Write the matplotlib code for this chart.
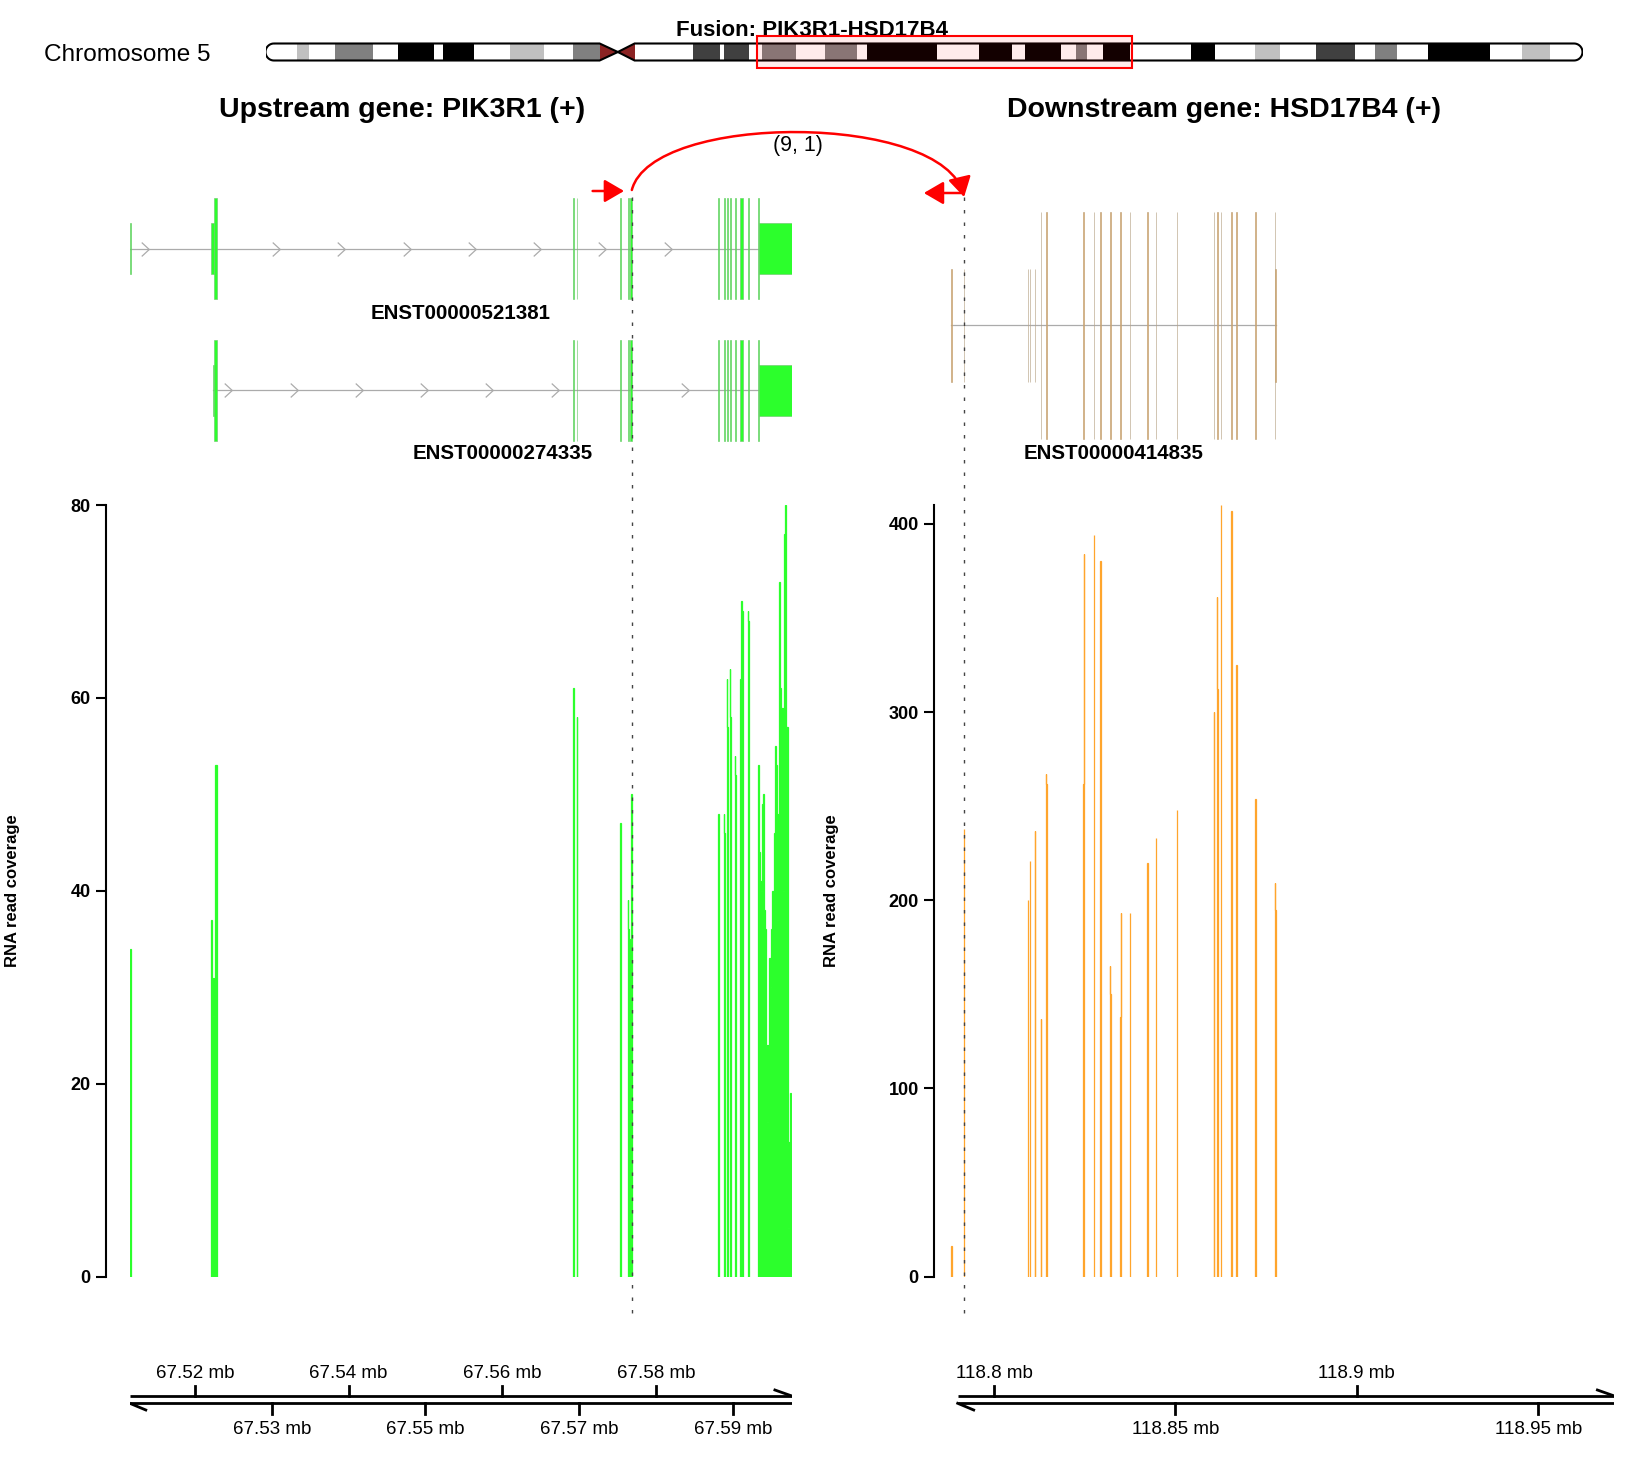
import numpy as np
import matplotlib
matplotlib.use('Agg')
import matplotlib.pyplot as plt
from matplotlib.patches import Rectangle, PathPatch, FancyArrowPatch
from matplotlib.path import Path

plt.rcParams['font.family'] = ['Liberation Sans', 'DejaVu Sans']

# ---------------- data ----------------
chrom_label = 'Chromosome 5'
chrom_len = 180.915  # Mb
band_start = [0, 4.3, 6.0, 9.5, 14.7, 18.2, 23.1, 24.4, 28.6, 33.6, 38.3, 42.3, 45.9, 48.4,
              50.7, 58.7, 62.5, 63.0, 66.4, 68.2, 72.9, 76.8, 81.2, 82.6, 92.2, 98.0, 102.6,
              104.3, 109.3, 111.3, 112.8, 115.0, 118.8, 127.1, 130.5, 135.9, 139.3, 144.3,
              149.6, 152.4, 155.4, 159.7, 168.2, 172.6, 176.4]
band_stain = ['gneg', 'gpos25', 'gneg', 'gpos50', 'gneg', 'gpos100', 'gneg', 'gpos100', 'gneg',
              'gpos25', 'gneg', 'gpos50', 'acen', 'acen',
              'gneg', 'gpos75', 'gneg', 'gpos75', 'gneg', 'gpos50', 'gneg', 'gpos50', 'gneg',
              'gpos100', 'gneg', 'gpos100', 'gneg', 'gpos100', 'gneg', 'gpos50', 'gneg',
              'gpos100', 'gneg', 'gpos100', 'gneg', 'gpos25', 'gneg', 'gpos75', 'gneg',
              'gpos50', 'gneg', 'gpos100', 'gneg', 'gpos25', 'gneg']
stain_color = {'gneg': 'white', 'gpos25': '#C0C0C0', 'gpos50': '#808080',
               'gpos75': '#404040', 'gpos100': 'black', 'acen': '#8B2323'}

fusion_name = 'PIK3R1-HSD17B4'
up_title = 'Upstream gene: PIK3R1 (+)'
dn_title = 'Downstream gene: HSD17B4 (+)'
split_reads, spanning_reads = 9, 1
up_breakpoint = 67_576_870
dn_breakpoint = 118_791_760

up_range = (67_511_510, 67_597_708)
dn_range = (118_787_000, 118_971_000)
dn_axis_range = (118_790_000, 118_971_000)

# PIK3R1 exons shared by both transcripts (after the first exons)
up_shared_start = [67_569_230, 67_569_690, 67_575_370, 67_576_320, 67_576_690, 67_588_110,
                   67_588_880, 67_589_250, 67_589_610, 67_590_320, 67_590_900, 67_591_980,
                   67_593_290]
up_shared_end = [67_569_330, 67_569_790, 67_575_470, 67_576_450, 67_576_870, 67_588_250,
                 67_589_000, 67_589_340, 67_589_720, 67_590_450, 67_591_320, 67_592_120,
                 67_597_656]
up_tx_names = ['ENST00000521381', 'ENST00000274335']
up_tx_first_start = [[67_511_540, 67_522_096], [67_522_330]]
up_tx_first_end = [[67_511_640, 67_522_813], [67_522_813]]
up_cds = (67_522_460, 67_593_430)

# coverage profile per exon of ENST00000521381
up_cov = [
    [7, 34, 34],
    [37, 36, 31, 27, 31, 33, 53, 53],
    [61, 56],
    [58, 52, 40],
    [47, 45, 43],
    [36, 39, 36],
    [35, 50],
    [46, 48, 47, 46],
    [48, 46, 44],
    [62, 57],
    [63, 58],
    [54, 52, 50],
    [50, 62, 70, 69],
    [69, 68, 55],
    [53, 44, 41, 40, 49, 50, 38, 36, 24, 16, 24, 26, 33, 30, 36, 40, 40, 46, 55, 53,
     37, 48, 72, 61, 59, 59, 40, 77, 80, 57, 57, 5, 14, 19, 8],
]

dn_tx_name = 'ENST00000414835'
dn_exon_start = [118_788_290, 118_791_760, 118_809_400, 118_809_950, 118_811_250, 118_812_980,
                 118_814_360, 118_824_650, 118_827_590, 118_829_350, 118_832_000, 118_834_800,
                 118_837_510, 118_842_300, 118_844_680, 118_850_470, 118_860_660, 118_861_490,
                 118_862_510, 118_865_350, 118_866_840, 118_872_080, 118_877_480]
dn_exon_end = [118_788_400, 118_791_870, 118_809_510, 118_810_060, 118_811_400, 118_813_090,
               118_814_480, 118_824_800, 118_827_700, 118_829_470, 118_832_120, 118_835_100,
               118_837_630, 118_842_430, 118_844_790, 118_850_580, 118_860_780, 118_861_610,
               118_862_630, 118_865_470, 118_866_960, 118_872_190, 118_877_760]
dn_cds = (118_812_980, 118_877_560)
dn_cov = [[16], [238], [200], [221], [237, 229], [137, 136], [267, 262], [262, 330, 384],
          [394], [380, 178], [165, 150], [138, 193], [193], [220, 208], [233], [248],
          [300, 272], [361, 312], [410], [407], [325, 245], [254], [209, 195, 88]]

up_color = '#2CFF2C'
dn_color = '#FFA52C'

# ---------------- figure ----------------
W, H = 1626, 1460
fig = plt.figure(figsize=(W / 100, H / 100), dpi=100)


def px_axes(x0, y0, x1, y1):
    return fig.add_axes([x0 / W, 1 - y1 / H, (x1 - x0) / W, (y1 - y0) / H])


# overlay in pixel coordinates
ov = px_axes(0, 0, W, H)
ov.set_xlim(0, W)
ov.set_ylim(H, 0)
ov.axis('off')
ov.set_zorder(10)

# ideogram
ax_id = px_axes(265.5, 0, 1582.5, 80)
ax_id.set_xlim(0, chrom_len)
ax_id.set_ylim(80, 0)
ax_id.axis('off')
top, bot = 43.5, 60.5
ymid, half = (top + bot) / 2, (bot - top) / 2
r = half / ((1582.5 - 265.5) / chrom_len)
acen = [i for i, s in enumerate(band_stain) if s == 'acen']
cen_l, cen_m = band_start[acen[0]], band_start[acen[1]]
cen_r = band_start[acen[1] + 1]
th = np.linspace(np.pi / 2, 3 * np.pi / 2, 30)
pts = [(r + r * np.cos(t), ymid - half * np.sin(t)) for t in th]
pts += [(cen_l, bot), (cen_m, ymid), (cen_r, bot)]
th = np.linspace(-np.pi / 2, np.pi / 2, 30)
pts += [(chrom_len - r + r * np.cos(t), ymid - half * np.sin(t)) for t in th]
pts += [(cen_r, top), (cen_m, ymid), (cen_l, top), pts[0]]
outline = PathPatch(Path(pts), fc='none', ec='black', lw=1.5, zorder=3)
ax_id.add_patch(outline)
band_end = band_start[1:] + [chrom_len]
for s, e, st in zip(band_start, band_end, band_stain):
    rect = Rectangle((s, top), e - s, bot - top, fc=stain_color[st], ec='none', zorder=2)
    ax_id.add_patch(rect)
    rect.set_clip_path(outline)
ax_id.add_patch(Rectangle((up_range[0] / 1e6, 36.3), (dn_axis_range[1] - up_range[0]) / 1e6,
                          32.1, fc=(1, 0, 0, 0.08), ec='red', lw=1.5, zorder=4))
ax_id.text(812, 31, 'Fusion: ' + fusion_name, transform=ov.transData, ha='center',
           va='center', fontsize=16, fontweight='bold', zorder=1)
ov.text(43.5, 55, chrom_label, ha='left', va='center', fontsize=17.6)
ov.text(402, 110, up_title, ha='center', va='center', fontsize=20.5, fontweight='bold')
ov.text(1224, 110, dn_title, ha='center', va='center', fontsize=20.5, fontweight='bold')


def exon_parts(s, e, cds):
    if e <= cds[0] or s >= cds[1]:
        return [(s, e, False)]
    parts = []
    if s < cds[0]:
        parts.append((s, cds[0], False))
    parts.append((max(s, cds[0]), min(e, cds[1]), True))
    if e > cds[1]:
        parts.append((cds[1], e, False))
    return parts


chev = Path([(-0.27, 0.5), (0.27, 0), (-0.27, -0.5)],
            [Path.MOVETO, Path.LINETO, Path.LINETO])


def draw_tx(ax, starts, ends, cds, yc, tall, short, color, edge, name, ylab, arrows):
    s0, e1 = starts[0], ends[-1]
    ax.plot([s0, e1], [yc, yc], color='#ABABAB', lw=0.9, zorder=1)
    if arrows:
        pos = np.arange(s0 + 2000, ends[-1], 8500)
        keep = [p for p in pos
                if min(min(abs(p - a), abs(p - b)) for a, b in zip(starts, ends)) > 1500
                and not any(a <= p <= b for a, b in zip(starts, ends))]
        ax.plot(keep, [yc] * len(keep), ls='none', marker=chev, ms=10, mfc='none',
                mec='#ABABAB', mew=0.9, zorder=1)
    for s, e in zip(starts, ends):
        for a, b, coding in exon_parts(s, e, cds):
            h = tall if coding else short
            ax.add_patch(Rectangle((a, yc - h / 2), b - a, h, fc=color, ec=edge,
                                   lw=0.45, zorder=2))
    ax.text((s0 + e1) / 2, ylab, name, ha='center', va='center', fontsize=14.8,
            fontweight='bold')


ax_tu = px_axes(129.8, 190, 791.9, 470)
ax_tu.set_xlim(up_range)
ax_tu.set_ylim(470, 190)
ax_tu.axis('off')
up_rows = [248.7, 390.3]
up_labels_y = [313.3, 454]
for i, name in enumerate(up_tx_names):
    st = up_tx_first_start[i] + up_shared_start
    en = up_tx_first_end[i] + up_shared_end
    draw_tx(ax_tu, st, en, up_cds, up_rows[i], 101, 50.7, up_color, '#6FC86F', name,
            up_labels_y[i], True)

ax_td = px_axes(946.8, 190, 1614.4, 470)
ax_td.set_xlim(dn_range)
ax_td.set_ylim(470, 190)
ax_td.axis('off')
draw_tx(ax_td, dn_exon_start, dn_exon_end, dn_cds, 325.3, 226.6, 113.4, dn_color,
        '#B8A488', dn_tx_name, 454, False)


def draw_cov(ax, starts, ends, covs, color):
    for s, e, vals in zip(starts, ends, covs):
        edges = np.linspace(s, e, len(vals) + 1)
        xs = np.repeat(edges, 2)
        ys = np.concatenate([[0], np.repeat(vals, 2), [0]])
        ax.fill(xs, ys, fc=color, ec=color, lw=0.9)


def style_cov(ax, ymax, step, offset):
    ax.set_ylim(0, ymax)
    ax.set_yticks(np.arange(0, ymax + 1, step))
    for sp in ['top', 'right', 'bottom']:
        ax.spines[sp].set_visible(False)
    ax.spines['left'].set_position(('outward', offset))
    ax.spines['left'].set_linewidth(1.5)
    ax.set_xticks([])
    ax.tick_params(axis='y', length=7.5, width=1.5, pad=3.5, labelsize=13)
    for t in ax.get_yticklabels():
        t.set_fontweight('bold')
    ax.patch.set_alpha(0)


ax_cu = px_axes(129.8, 505, 791.9, 1276.6)
ax_cu.set_xlim(up_range)
draw_cov(ax_cu, up_tx_first_start[0] + up_shared_start, up_tx_first_end[0] + up_shared_end,
         up_cov, up_color)
style_cov(ax_cu, 80, 20, 17.3)

ax_cd = px_axes(946.8, 505, 1614.4, 1276.6)
ax_cd.set_xlim(dn_range)
draw_cov(ax_cd, dn_exon_start, dn_exon_end, dn_cov, dn_color)
style_cov(ax_cd, 410, 100, 9.2)

ov.text(12.4, 891, 'RNA read coverage', rotation=90, ha='center', va='center',
        fontsize=12, fontweight='bold')
ov.text(831.7, 891, 'RNA read coverage', rotation=90, ha='center', va='center',
        fontsize=12, fontweight='bold')


def genome_axis(x0, x1, xr, axr, step):
    ax = px_axes(x0, 1355, x1, 1450)
    ax.set_xlim(xr)
    ax.set_ylim(1450, 1355)
    ax.axis('off')
    bp_per_px = (xr[1] - xr[0]) / (x1 - x0)
    a0, a1 = axr
    ax.plot([a0, a1], [1396, 1396], color='black', lw=2, solid_capstyle='butt')
    ax.plot([a0, a1], [1403.3, 1403.3], color='black', lw=2, solid_capstyle='butt')
    ax.plot([a1 - 17 * bp_per_px, a1], [1390, 1396], color='black', lw=2)
    ax.plot([a0, a0 + 16 * bp_per_px], [1403.3, 1410], color='black', lw=2)
    ticks = np.arange(np.ceil(a0 / step) * step, a1, step)
    for i, t in enumerate(ticks):
        lab = f'{t / 1e6:g} mb'
        if i % 2 == 0:
            ax.plot([t, t], [1386, 1396], color='black', lw=2)
            ax.text(t, 1373.3, lab, ha='center', va='center', fontsize=13.5)
        else:
            ax.plot([t, t], [1403.3, 1414], color='black', lw=2)
            ax.text(t, 1430, lab, ha='center', va='center', fontsize=13.5)


genome_axis(129.8, 791.9, up_range, up_range, 10_000)
genome_axis(946.8, 1614.4, dn_range, dn_axis_range, 50_000)

# breakpoints, fusion link
bx_up = ax_tu.transData.transform((up_breakpoint, 0))[0]
bx_dn = ax_td.transData.transform((dn_breakpoint, 0))[0]
for bx in [bx_up, bx_dn]:
    ov.plot([bx, bx], [197, 1322], ls=(0, (2.5, 6.5)), color='#444444', lw=1.0)

link = Path([(bx_up, 190), (bx_up + 20, 112), (bx_dn - 20, 112), (bx_dn, 197)],
            [Path.MOVETO, Path.CURVE4, Path.CURVE4, Path.CURVE4])
ov.add_patch(FancyArrowPatch(path=link, arrowstyle='-|>,head_length=0.6,head_width=0.35',
                             mutation_scale=20, color='red', lw=1.8))
ov.add_patch(FancyArrowPatch((bx_up - 42, 191), (bx_up - 5, 191),
                             arrowstyle='-|>,head_length=0.6,head_width=0.35',
                             mutation_scale=20, color='red', lw=1.8))
ov.add_patch(FancyArrowPatch((bx_dn, 193), (bx_dn - 43, 193),
                             arrowstyle='-|>,head_length=0.6,head_width=0.35',
                             mutation_scale=20, color='red', lw=1.8))
ov.text((bx_up + bx_dn) / 2, 145, f'({split_reads}, {spanning_reads})', ha='center',
        va='center', fontsize=15.5)

fig.savefig('out.png', dpi=100)
